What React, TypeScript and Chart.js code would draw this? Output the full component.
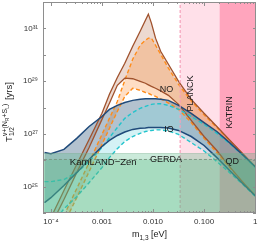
import { useEffect, useRef } from "react";
import { Chart, registerables } from "chart.js";

Chart.register(...registerables);

// lightest neutrino mass m_{1,3} [eV]
const massGrid = [7.5e-5, 1e-4, 1.8e-4, 3.2e-4, 5.6e-4, 1e-3, 1.4e-3, 2e-3, 2.8e-3, 4e-3, 5.6e-3, 7.1e-3, 8.1e-3, 9.3e-3, 0.0112, 0.0141, 0.02, 0.0316, 0.056, 0.1, 0.178, 0.316, 0.562, 1.05];

// log10 of half-life [yrs]
const noMaxLog = [23.33, 23.82, 24.85, 25.84, 26.79, 27.78, 28.5, 29.14, 29.68, 30.32, 30.89, 31.31, 31.54, 31.2, 30.63, 30.13, 29.64, 28.99, 28.31, 27.78, 27.28, 26.77, 26.27, 25.72];
const noMinLog = [23.02, 23.52, 24.51, 25.53, 26.48, 27.55, 28.16, 28.84, 29.11, 29.09, 28.99, 28.92, 28.86, 28.8, 28.73, 28.63, 28.46, 28.12, 27.51, 26.9, 26.37, 25.76, 25.19, 24.62];
const noMaxAltLog = [22.34, 22.83, 23.9, 24.92, 25.91, 26.98, 27.59, 28.23, 29.03, 29.83, 30.36, 30.55, 30.63, 30.63, 30.36, 30.02, 29.49, 28.88, 28.25, 27.72, 27.24, 26.75, 26.25, 25.72];
const noMinAltLog = [22.03, 22.53, 23.59, 24.58, 25.57, 26.6, 27.21, 27.85, 28.42, 28.73, 28.65, 28.57, 28.54, 28.48, 28.42, 28.33, 28.17, 27.93, 27.43, 26.83, 26.29, 25.72, 25.19, 24.62];
const ioMaxLog = [26.29, 26.25, 26.41, 26.83, 27.28, 27.66, 27.93, 28.08, 28.19, 28.27, 28.31, 28.33, 28.33, 28.33, 28.33, 28.31, 28.27, 28.08, 27.78, 27.43, 27.09, 26.67, 26.22, 25.72];
const ioMinLog = [24.39, 24.58, 25.04, 25.53, 26.03, 26.52, 26.75, 26.94, 27.07, 27.17, 27.21, 27.22, 27.24, 27.24, 27.24, 27.24, 27.22, 27.13, 26.9, 26.56, 26.1, 25.61, 25.13, 24.62];
const ioMaxAltLog = [25.19, 25.19, 25.27, 25.53, 25.95, 26.48, 26.86, 27.24, 27.59, 27.81, 27.97, 28.04, 28.08, 28.12, 28.14, 28.14, 28.08, 27.93, 27.66, 27.36, 27.02, 26.63, 26.2, 25.7];
const ioMinAltLog = [23.25, 23.52, 24.16, 24.62, 25.15, 25.72, 26.1, 26.44, 26.71, 26.9, 27.02, 27.09, 27.11, 27.13, 27.15, 27.15, 27.11, 26.98, 26.67, 26.35, 25.95, 25.53, 25.1, 24.6];

// experimental bounds
const limitUpperT = 1.8e26;
const limitLowerT = 1.07e26;
const planckMass = 0.034;
const katrinMass = 0.2;

const xRange = [7.3e-5, 1.04];
const yRange = [1e24, 1e32];
const xTickValues = [1e-4, 1e-3, 1e-2, 1e-1, 1];
const xTickLabels = ["10\u207B\u2074", "0.001", "0.010", "0.100", "1"];
const yTickValues = [1e25, 1e27, 1e29, 1e31];
const yTickLabels = ["10\u00B2\u2075", "10\u00B2\u2077", "10\u00B2\u2079", "10\u00B3\u00B9"];

const regionLabels = [
  { text: "NO", m: 0.0183, t: 4.9e28, rot: false, size: 9 },
  { text: "IO", m: 0.0205, t: 1.42e27, rot: false, size: 9 },
  { text: "PLANCK", m: 0.054, t: 3.4e28, rot: true, size: 9 },
  { text: "KATRIN", m: 0.311, t: 6.5e27, rot: true, size: 9 },
  { text: "KamLAND\u2212Zen", m: 1.06e-3, t: 8.1e25, rot: false, size: 9.5 },
  { text: "GERDA", m: 0.0179, t: 1.06e26, rot: false, size: 9 },
  { text: "QD", m: 0.356, t: 8.9e25, rot: false, size: 9 },
];

const FONT = '"Liberation Sans", Arial, Helvetica, sans-serif';

const pts = (logs: number[]) => massGrid.map((m, i) => ({ x: m, y: Math.pow(10, logs[i]) }));

const decor = {
  id: "decor",
  afterDraw(chart: any) {
    const { ctx, chartArea: a, scales } = chart;
    const xs = scales.x;
    const ys = scales.y;
    ctx.save();
    // frame
    ctx.strokeStyle = "#8e8e8e";
    ctx.lineWidth = 1;
    ctx.strokeRect(a.left + 0.5, a.top + 0.5, a.right - a.left - 1, a.bottom - a.top - 1);
    ctx.beginPath();
    for (let e = -4; e <= 0; e++) {
      for (let k = 1; k <= 9; k++) {
        const v = k * Math.pow(10, e);
        if (v > xs.max || v < xs.min) continue;
        const px = Math.round(xs.getPixelForValue(v)) + 0.5;
        const len = k === 1 ? 4 : 2;
        ctx.moveTo(px, a.bottom);
        ctx.lineTo(px, a.bottom - len);
        ctx.moveTo(px, a.top);
        ctx.lineTo(px, a.top + len);
      }
    }
    for (let e = 24; e <= 32; e++) {
      const py = Math.round(ys.getPixelForValue(Math.pow(10, e))) + 0.5;
      ctx.moveTo(a.left, py);
      ctx.lineTo(a.left + 3, py);
      ctx.moveTo(a.right, py);
      ctx.lineTo(a.right - 3, py);
    }
    ctx.stroke();

    // region labels
    ctx.fillStyle = "#1a1a1a";
    ctx.textAlign = "center";
    ctx.textBaseline = "middle";
    for (const l of regionLabels) {
      const px = xs.getPixelForValue(l.m);
      const py = ys.getPixelForValue(l.t);
      ctx.font = `${l.size}px ${FONT}`;
      if (l.rot) {
        ctx.save();
        ctx.translate(px, py);
        ctx.rotate(-Math.PI / 2);
        ctx.fillText(l.text, 0, 0);
        ctx.restore();
      } else {
        ctx.fillText(l.text, px, py);
      }
    }

    // x title: m_{1,3} [eV]
    ctx.textAlign = "left";
    ctx.textBaseline = "alphabetic";
    const xParts = [
      { t: "m", s: 9, dy: 0 },
      { t: "1,3", s: 6.5, dy: 2.5 },
      { t: " [eV]", s: 9, dy: 0 },
    ];
    let w = 0;
    for (const p of xParts) {
      ctx.font = `${p.s}px ${FONT}`;
      w += ctx.measureText(p.t).width;
    }
    let cx = (a.left + a.right) / 2 - w / 2;
    const by = 237;
    for (const p of xParts) {
      ctx.font = `${p.s}px ${FONT}`;
      ctx.fillText(p.t, cx, by + p.dy);
      cx += ctx.measureText(p.t).width;
    }

    // y title: T_{1/2}^{nu+(N_R+S_L)} [yrs]
    ctx.save();
    ctx.translate(11.5, 112);
    ctx.rotate(-Math.PI / 2);
    const meas = (t: string, s: number) => {
      ctx.font = `${s}px ${FONT}`;
      return ctx.measureText(t).width;
    };
    const sup = [
      { t: "\u03BD+(N", s: 7, dy: -4.5 },
      { t: "R", s: 5, dy: -2.5 },
      { t: "+S", s: 7, dy: -4.5 },
      { t: "L", s: 5, dy: -2.5 },
      { t: ")", s: 7, dy: -4.5 },
    ];
    const wT = meas("T", 9.5);
    const wSub = meas("1/2", 6.5);
    let wSup = 0;
    for (const p of sup) wSup += meas(p.t, p.s);
    const wUnit = meas(" [yrs]", 9.5);
    const total = wT + Math.max(wSub, wSup) + 1 + wUnit;
    let tx = -total / 2;
    ctx.font = `9.5px ${FONT}`;
    ctx.fillText("T", tx, 0);
    tx += wT;
    ctx.font = `6.5px ${FONT}`;
    ctx.fillText("1/2", tx, 2.5);
    let sx = tx;
    for (const p of sup) {
      ctx.font = `${p.s}px ${FONT}`;
      ctx.fillText(p.t, sx, p.dy);
      sx += ctx.measureText(p.t).width;
    }
    tx += Math.max(wSub, wSup) + 1;
    ctx.font = `9.5px ${FONT}`;
    ctx.fillText(" [yrs]", tx, 0);
    ctx.restore();

    ctx.restore();
  },
};

export default function App() {
  const ref = useRef<HTMLCanvasElement | null>(null);

  useEffect(() => {
    if (!ref.current) return;
    const none = "rgba(0,0,0,0)";
    const line = (label: string, data: any[], color: string, dashed: boolean, width: number) => ({
      label,
      data,
      borderColor: color,
      borderWidth: width,
      borderDash: dashed ? [4, 2.5] : [],
      pointRadius: 0,
      fill: false,
      tension: 0,
    });
    const filler = (label: string, data: any[], target: number, color: string) => ({
      label,
      data,
      borderColor: none,
      borderWidth: 0.01,
      backgroundColor: color,
      pointRadius: 0,
      fill: target,
      tension: 0,
    });

    const datasets: any[] = [
      // 0,1: limits (drawn on top)
      {
        label: "limit-lower",
        data: [{ x: xRange[0], y: limitLowerT }, { x: xRange[1], y: limitLowerT }],
        borderColor: "rgba(120,150,130,0.9)",
        borderWidth: 1,
        borderDash: [3, 2],
        backgroundColor: "rgba(84,184,131,0.3)",
        pointRadius: 0,
        fill: "start",
      },
      {
        label: "limit-upper",
        data: [{ x: xRange[0], y: limitUpperT }, { x: xRange[1], y: limitUpperT }],
        borderColor: "rgba(120,175,140,0.5)",
        borderWidth: 0.8,
        backgroundColor: "rgba(84,184,131,0.3)",
        pointRadius: 0,
        fill: "start",
      },
      // 2: planck dashed line
      {
        label: "planck-line",
        data: [{ x: planckMass, y: yRange[0] }, { x: planckMass, y: yRange[1] }],
        borderColor: "#f5a0ba",
        borderWidth: 1.2,
        borderDash: [3, 2],
        pointRadius: 0,
        fill: false,
      },
      // 3-10 curves
      line("IO max", pts(ioMaxLog), "#1f4a7a", false, 1.5), // 3
      line("IO min", pts(ioMinLog), "#1f4a7a", false, 1.5), // 4
      line("IO max alt", pts(ioMaxAltLog), "#22c4cc", true, 1.4), // 5
      line("IO min alt", pts(ioMinAltLog), "#22c4cc", true, 1.4), // 6
      line("NO max", pts(noMaxLog), "#a0522d", false, 1.3), // 7
      line("NO min", pts(noMinLog), "#a0522d", false, 1.3), // 8
      line("NO max alt", pts(noMaxAltLog), "#ff8c1a", true, 1.4), // 9
      line("NO min alt", pts(noMinAltLog), "#ff8c1a", true, 1.4), // 10
      // 11-14 fills
      filler("IO alt band", pts(ioMaxAltLog), 6, "rgba(125,215,225,0.33)"),
      filler("IO band", pts(ioMaxLog), 4, "rgba(55,95,130,0.38)"),
      filler("NO alt band", pts(noMaxAltLog), 10, "rgba(255,145,60,0.3)"),
      filler("NO band", pts(noMaxLog), 8, "rgba(180,110,75,0.26)"),
      // 15,16 pink bands
      {
        label: "katrin",
        data: [{ x: katrinMass, y: yRange[1] }, { x: xRange[1], y: yRange[1] }],
        borderColor: none,
        borderWidth: 0.01,
        backgroundColor: "#ffa5bd",
        pointRadius: 0,
        fill: "start",
      },
      {
        label: "planck",
        data: [{ x: planckMass, y: yRange[1] }, { x: xRange[1], y: yRange[1] }],
        borderColor: none,
        borderWidth: 0.01,
        backgroundColor: "#ffe0e9",
        pointRadius: 0,
        fill: "start",
      },
    ];

    const chart = new Chart(ref.current, {
      type: "line",
      data: { datasets },
      plugins: [decor],
      options: {
        animation: false,
        responsive: true,
        maintainAspectRatio: false,
        events: [],
        layout: { padding: { top: 2, right: 2, bottom: 0, left: 0 } },
        plugins: {
          legend: { display: false },
          tooltip: { enabled: false },
          filler: { drawTime: "beforeDatasetDraw" },
        },
        scales: {
          x: {
            type: "logarithmic",
            min: xRange[0],
            max: xRange[1],
            grid: { display: false, drawTicks: false },
            border: { display: false },
            afterBuildTicks: (s: any) => {
              s.ticks = xTickValues.map((v) => ({ value: v }));
            },
            afterFit: (s: any) => {
              s.height = 35;
              s.paddingLeft = 0;
              s.paddingRight = 0;
            },
            ticks: {
              autoSkip: false,
              maxRotation: 0,
              padding: 4,
              color: "#333",
              font: { size: 8, family: FONT },
              callback: (_v: any, i: number) => xTickLabels[i],
            },
          },
          y: {
            type: "logarithmic",
            min: yRange[0],
            max: yRange[1],
            grid: { display: false, drawTicks: false },
            border: { display: false },
            afterBuildTicks: (s: any) => {
              s.ticks = yTickValues.map((v) => ({ value: v }));
            },
            afterFit: (s: any) => {
              s.width = 43;
              s.paddingTop = 0;
              s.paddingBottom = 0;
            },
            ticks: {
              autoSkip: false,
              padding: 5,
              color: "#333",
              font: { size: 8, family: FONT },
              callback: (_v: any, i: number) => yTickLabels[i],
            },
          },
        },
      } as any,
    });
    return () => chart.destroy();
  }, []);

  return (
    <div style={{ position: "absolute", left: 0, top: 0, width: 258, height: 248, background: "#fff" }}>
      <canvas ref={ref} />
    </div>
  );
}
